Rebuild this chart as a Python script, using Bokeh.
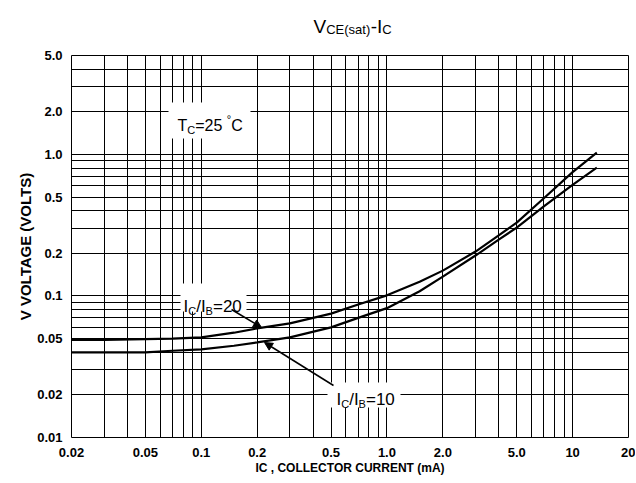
import math
from bokeh.plotting import figure
from bokeh.layouts import column
from bokeh.models import (Range1d, FixedTicker, CustomJSTickFormatter, Label,
                          BoxAnnotation, Arrow, NormalHead)
from bokeh.embed import file_html
from bokeh.resources import INLINE

# ---------------- data ----------------
ic = [0.02, 0.03, 0.05, 0.07, 0.1, 0.15, 0.2, 0.3, 0.5, 0.7, 1.0, 1.5, 2.0, 3.0, 4.0, 5.0, 7.0, 10.0, 13.5]
v_ratio20 = [0.049, 0.049, 0.0495, 0.050, 0.051, 0.055, 0.059, 0.064, 0.075, 0.087, 0.101, 0.126, 0.151,
             0.206, 0.268, 0.330, 0.49, 0.75, 1.03]
v_ratio10 = [0.040, 0.040, 0.040, 0.041, 0.042, 0.0445, 0.047, 0.051, 0.060, 0.070, 0.082, 0.108, 0.137,
             0.193, 0.25, 0.304, 0.43, 0.61, 0.807]

x_ticks = [0.02, 0.05, 0.1, 0.2, 0.5, 1, 2, 5, 10, 20]
x_tick_labels = ["0.02", "0.05", "0.1", "0.2", "0.5", "1.0", "2.0", "5.0", "10", "20"]
x_minor = [0.03, 0.04, 0.06, 0.07, 0.08, 0.09, 0.3, 0.4, 0.6, 0.7, 0.8, 0.9, 3, 4, 6, 7, 8, 9]
y_ticks = [0.01, 0.02, 0.05, 0.1, 0.2, 0.5, 1, 2, 5]
y_tick_labels = ["0.01", "0.02", "0.05", "0.1", "0.2", "0.5", "1.0", "2.0", "5.0"]
y_minor = [0.03, 0.04, 0.06, 0.07, 0.08, 0.09, 0.3, 0.4, 0.6, 0.7, 0.8, 0.9, 3, 4]

FONT = "Liberation Sans"
X0, X1, Y0, Y1 = 0.02, 20, 0.01, 5
WIDTH, TOP_H, MAIN_H = 635, 47, 435
FL, FR, FT, FB = 71, 628, 55, 437   # frame edges in page pixels

W = {"I": .278, "C": .722, "/": .278, "B": .667, "=": .584, "2": .556, "0": .556,
     "1": .556, "T": .611, "5": .556, " ": .278, "°": .4, "V": .667, "E": .667,
     "(": .333, "s": .5, "a": .556, "t": .278, ")": .333, "-": .333}

# ---------------- title strip (frame aligned with the chart's frame; data = page px) ----------------
pt = figure(width=WIDTH, height=TOP_H, x_range=Range1d(FL, FR), y_range=Range1d(TOP_H, 0),
            output_backend="svg", toolbar_location=None,
            x_axis_location=None, y_axis_location=None,
            min_border_left=0, min_border_right=0, min_border_top=0, min_border_bottom=0)
pt.outline_line_color = None
pt.xgrid.visible = False
pt.ygrid.visible = False
pt.background_fill_color = "white"
pt.border_fill_color = "white"

def rich_on(fig, segments, px, py, tx, ty):
    cur = px
    for text, size, shift, gap in segments:
        fig.add_layout(Label(x=tx(cur), y=ty(py + shift), text=text, text_font=FONT,
                             text_font_size=f"{size}px", text_baseline="alphabetic",
                             text_align="left", text_color="black"))
        cur += sum(W.get(c, .55) for c in text) * size + gap

rich_on(pt, [("V", 19, 0, 0), ("CE(sat)", 13, 3, 0.5), ("-I", 19, 0, 0), ("C", 13, 3, 0)], 313, 26,
        lambda v: v, lambda v: v)

# ---------------- main chart ----------------
p = figure(width=WIDTH, height=MAIN_H, x_axis_type="log", y_axis_type="log",
           x_range=Range1d(X0, X1), y_range=Range1d(Y0, Y1),
           output_backend="svg", toolbar_location=None,
           min_border_left=FL, min_border_right=WIDTH - FR, min_border_top=FT - TOP_H,
           min_border_bottom=TOP_H + MAIN_H - FB)
p.background_fill_color = "white"
p.border_fill_color = "white"
p.outline_line_color = "black"
p.outline_line_width = 1

def fmt(tv, tl):
    return CustomJSTickFormatter(args=dict(tv=tv, tl=tl), code="""
        for (let i = 0; i < tv.length; i++) {
            if (Math.abs(tv[i] - tick) < 1e-6 * tv[i]) return tl[i];
        }
        return "";
    """)

p.xaxis.ticker = FixedTicker(ticks=x_ticks, minor_ticks=x_minor)
p.yaxis.ticker = FixedTicker(ticks=y_ticks, minor_ticks=y_minor)
p.xaxis.formatter = fmt(x_ticks, x_tick_labels)
p.yaxis.formatter = fmt(y_ticks, y_tick_labels)

for ax in (p.xaxis[0], p.yaxis[0]):
    ax.axis_line_color = None
    ax.major_tick_line_color = None
    ax.minor_tick_line_color = None
    ax.major_label_text_font = FONT
    ax.major_label_text_font_size = "13px"
    ax.major_label_text_font_style = "bold"
    ax.major_label_text_color = "black"
    ax.axis_label_text_font = FONT
    ax.axis_label_text_font_style = "bold"
    ax.axis_label_text_color = "black"

p.xaxis.axis_label = "IC , COLLECTOR CURRENT (mA)"
p.xaxis.axis_label_text_font_size = "12px"
p.xaxis.major_label_standoff = 4
p.xaxis.axis_label_standoff = 1
p.yaxis.axis_label = "V VOLTAGE (VOLTS)"
p.yaxis.axis_label_text_font_size = "15px"
p.yaxis.major_label_standoff = 3
p.yaxis.axis_label_standoff = 0

for g in (p.xgrid[0], p.ygrid[0]):
    g.grid_line_color = "black"
    g.grid_line_width = 1
    g.grid_line_alpha = 1
    g.minor_grid_line_color = "black"
    g.minor_grid_line_width = 1
    g.minor_grid_line_alpha = 1

p.line(ic, v_ratio20, line_color="black", line_width=2.2)
p.line(ic, v_ratio10, line_color="black", line_width=2.2)

# ---------- annotation helpers (reference page pixels -> data) ----------
def dx(px):
    return X0 * 10 ** ((px - FL) / (FR - FL) * math.log10(X1 / X0))
def dy(py):
    return Y1 * 10 ** (-(py - FT) / (FB - FT) * math.log10(Y1 / Y0))

def wbox(l, r, t, b):
    p.add_layout(BoxAnnotation(left=dx(l), right=dx(r), top=dy(t), bottom=dy(b),
                               fill_color="white", fill_alpha=1, line_color=None))

wbox(168, 250, 102, 138)
wbox(180, 246, 283, 311)
wbox(327, 400, 382, 407)

p.add_layout(Arrow(x_start=dx(231), y_start=dy(309), x_end=dx(261), y_end=dy(327),
                   line_width=1.5, line_color="black",
                   end=NormalHead(size=8, fill_color="black", line_color="black")))
p.add_layout(Arrow(x_start=dx(333), y_start=dy(385), x_end=dx(264), y_end=dy(342),
                   line_width=1.5, line_color="black",
                   end=NormalHead(size=8, fill_color="black", line_color="black")))

rich_on(p, [("T", 16, 0, 0), ("C", 11, 4, 0), ("=25 ", 16, 0, 0), ("°", 11, -7, 0), ("C", 16, 0, 0)],
        177, 125, dx, dy)
rich_on(p, [("I", 17, 0, 0), ("C", 11, 4, 0), ("/I", 17, 0, 0), ("B", 11, 4, 0), ("=20", 17, 0, 0)],
        183, 306, dx, dy)
rich_on(p, [("I", 17, 0, 0), ("C", 11, 4, 0), ("/I", 17, 0, 0), ("B", 11, 4, 0), ("=10", 17, 0, 0)],
        336, 399, dx, dy)

layout = column(pt, p, spacing=0)
open("out.html", "w").write(file_html(layout, INLINE))
